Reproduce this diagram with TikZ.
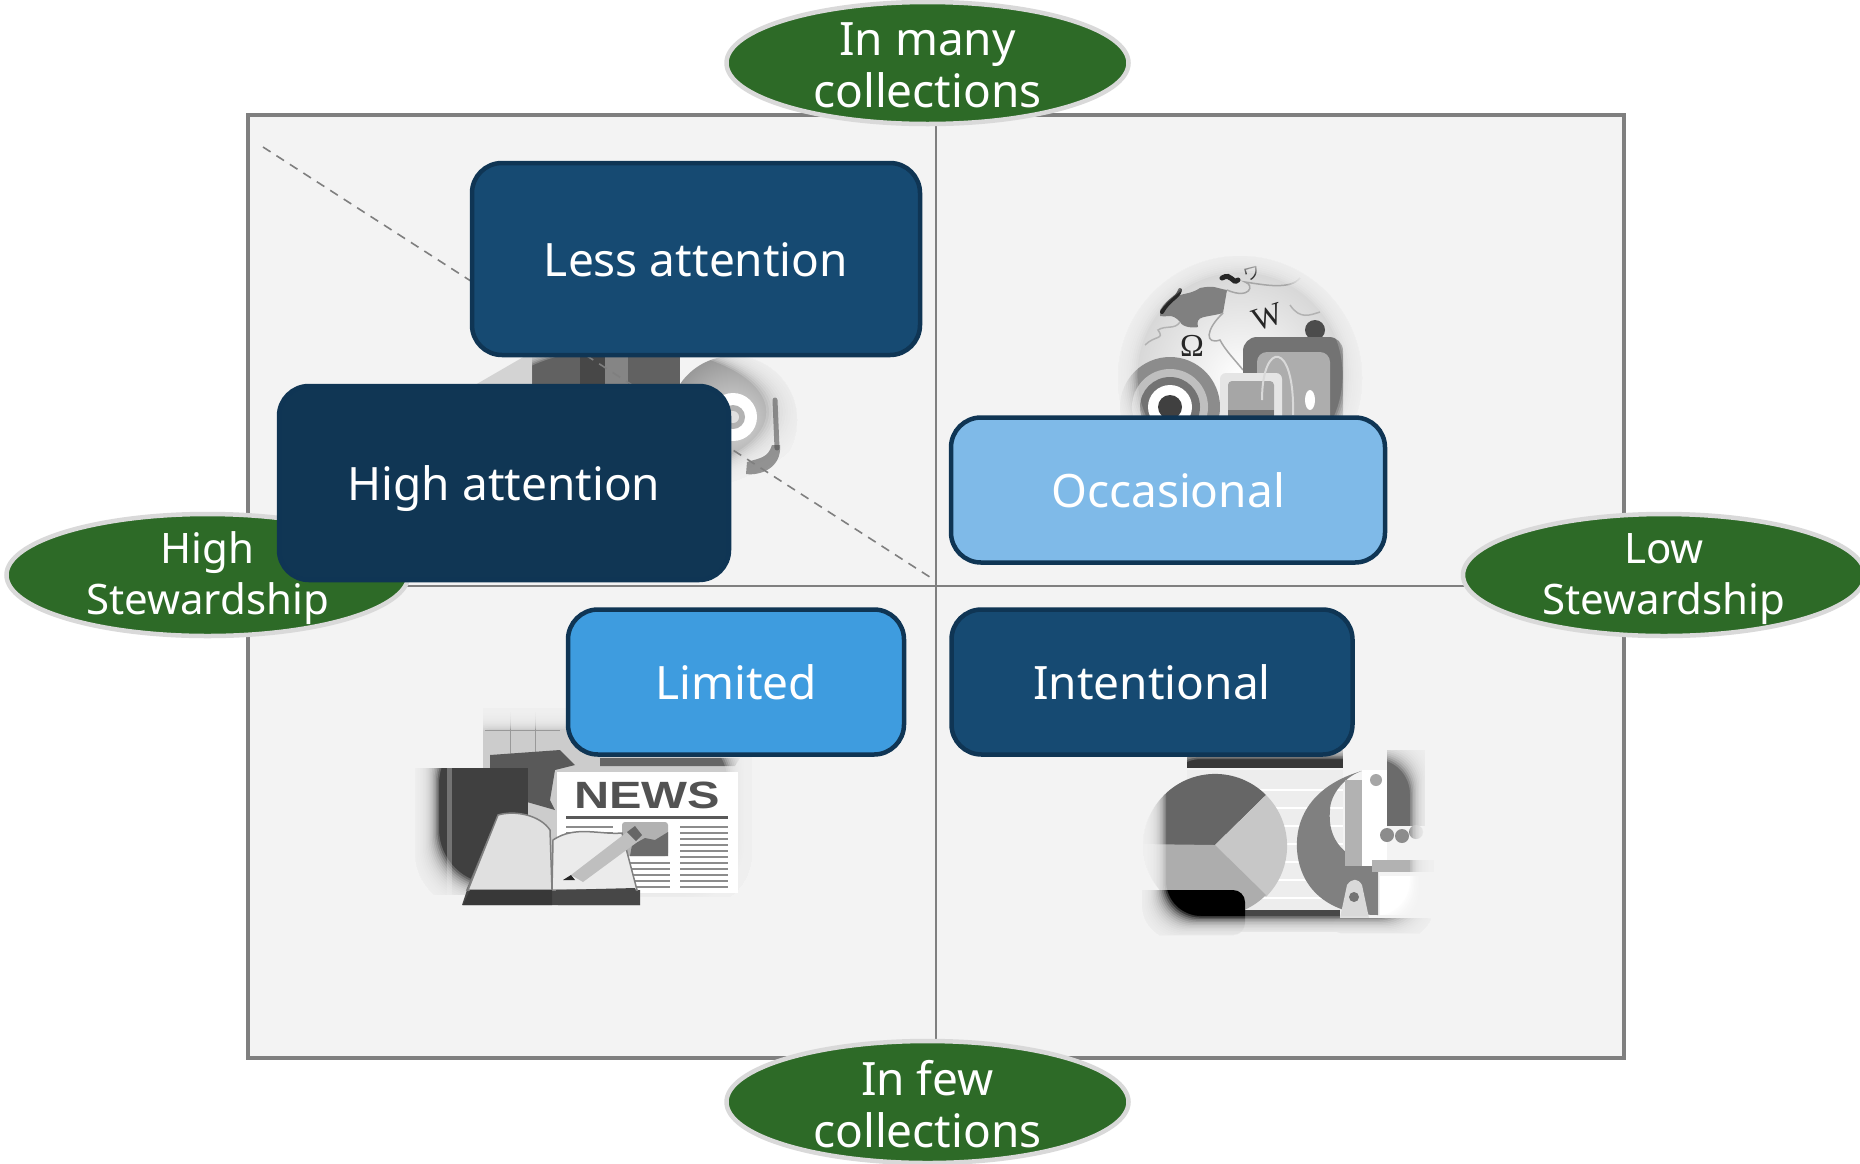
\documentclass[tikz,border=0pt]{standalone}
\usepackage{fontspec}
\setmainfont{Noto Sans}
\newfontfamily\iconbold{Liberation Sans}
\newfontfamily\iconserif{Liberation Serif}
\newfontfamily\iconcjk{Noto Sans CJK JP}
\usetikzlibrary{shapes.geometric}
\definecolor{panelbg}{HTML}{F3F3F3}
\definecolor{framegray}{HTML}{7F7F7F}
\definecolor{ovalgreen}{HTML}{2D6A27}
\definecolor{ovalrim}{HTML}{D9D9D9}
\definecolor{navyrim}{HTML}{0F3554}
\definecolor{bluemid}{HTML}{164A72}
\definecolor{bluedark}{HTML}{103654}
\definecolor{bluepale}{HTML}{7FBAE8}
\definecolor{bluelim}{HTML}{3E9CDF}
\tikzset{
  oval/.style={ellipse,draw=ovalrim,line width=4.5pt,fill=ovalgreen,text=white,minimum width=402pt,minimum height=122pt,inner sep=-40pt,align=center},
  ovalwide/.style={oval,font=\fontsize{46}{52}\selectfont},
  ovalside/.style={oval,font=\fontsize{42}{51}\selectfont},
  card/.style={rectangle,rounded corners=30pt,draw=navyrim,line width=4.5pt,text=white,inner sep=0pt,text height=35pt,text depth=0pt,font=\fontsize{46}{50}\selectfont}
}
% soft vignettes: stacked translucent masks with a hole
\newcommand{\softoval}[4]{%
  \fill[panelbg,even odd rule] (#1-#3-25,#2-#4-25) rectangle (#1+#3+25,#2+#4+25) (#1,#2) ellipse ({#3} and {#4});
  \foreach \ss in {0.985,0.97,0.955,0.94,0.925,0.91,0.895,0.88,0.865,0.85,0.835,0.82,0.805,0.79,0.775,0.76}
    \fill[panelbg,opacity=0.22,even odd rule] (#1-#3,#2-#4) rectangle (#1+#3,#2+#4) (#1,#2) ellipse ({#3*\ss} and {#4*\ss});
}
\newcommand{\softbox}[5]{%
  \fill[panelbg,even odd rule] (#1-25,#2-25) rectangle (#3+25,#4+25) [rounded corners=#5pt] (#1,#2) rectangle (#3,#4);
  \foreach \dd in {1.5,3,4.5,6,7.5,9,10.5,12,13.5,15,16.5,18,19.5,21,22.5,24}
    \fill[panelbg,opacity=0.22,even odd rule] (#1,#2) rectangle (#3,#4) [rounded corners=#5pt] (#1+\dd,#2+\dd) rectangle (#3-\dd,#4-\dd);
}
\begin{document}
\begin{tikzpicture}[x=1pt,y=-1pt]
\useasboundingbox (0,0) rectangle (1860,1163);
\fill[white] (0,0) rectangle (1860,1163);
% panel
\fill[panelbg] (248,115) rectangle (1624,1058);
\coordinate (vt) at (936,115);
\coordinate (vb) at (936,1058);
\coordinate (hl) at (400,586);
\coordinate (hr) at (1470,586);
\draw[framegray,line width=1.6pt] (vt) -- (vb);
\draw[framegray,line width=1.6pt] (hl) -- (hr);
\draw[framegray,line width=4pt] (248,115) rectangle (1624,1058);

% --- icon top-left (disc and towers)
\fill[black!62] (532,350) rectangle (680,400);
\fill[black!72] (580,350) rectangle (605,400);
\fill[black!48] (605,350) rectangle (628,400);
\shade[inner color=black!15,outer color=black!40] (733,420) circle (64);
\fill[white] (733,417) circle (24);
\fill[black!30] (733,417) circle (12);
\fill[black!12] (733,417) circle (6);
\softoval{628}{412}{182}{85}
\fill[black!25,opacity=.6] (475,385) -- (532,352) -- (532,385) -- cycle;
\draw[black!72,line width=5pt,line cap=round,opacity=.55] (775,400) -- (777,448);
\fill[black!72,opacity=.55] (780,445) .. controls (782,468) and (760,476) .. (746,474) -- (747,462) .. controls (760,458) and (768,458) .. (772,445) -- cycle;
\draw[framegray,line width=1.6pt,dash pattern=on 9pt off 7pt] (263,147) -- (936,581);

% --- icon top-right (globe and player)
\shade[inner color=white,middle color=white,outer color=black!18] (1240,378) circle (122);
\fill[black!50] (1160,310) .. controls (1172,290) and (1185,298) .. (1200,288) .. controls (1215,285) and (1215,288) .. (1227,290) -- (1223,313) .. controls (1205,318) and (1195,315) .. (1198,327) .. controls (1195,328) and (1183,328) .. (1180,322) .. controls (1172,312) and (1165,318) .. (1160,316) -- cycle;
\draw[black!85,line width=4pt,line cap=round] (1162,312) .. controls (1170,298) and (1178,298) .. (1180,290);
\draw[black!85,line width=5pt,line cap=round] (1222,278) .. controls (1232,272) and (1232,285) .. (1238,280);
\draw[black!35,line width=1.5pt] (1227,290) .. controls (1250,300) and (1255,285) .. (1245,282) .. controls (1265,285) and (1290,290) .. (1300,278);
\draw[black!35,line width=1.5pt] (1223,313) .. controls (1205,330) and (1205,345) .. (1220,340) .. controls (1225,350) and (1235,360) .. (1243,370);
\draw[black!30,line width=1.5pt] (1145,345) .. controls (1155,335) and (1165,340) .. (1158,330) .. controls (1165,325) and (1175,330) .. (1180,322);
\draw[black!30,line width=1.5pt] (1290,305) .. controls (1300,320) and (1310,315) .. (1320,312);
\node[text=black!85,font=\iconserif\fontsize{32}{32}\selectfont] (omega) at (1192,346) {Ω};
\node[text=black!85,font=\iconserif\fontsize{32}{32}\selectfont,rotate=18] (wiki) at (1268,317) {W};
\node[text=black!80,font=\iconcjk\fontsize{17}{17}\selectfont,rotate=15] (wikiglyph) at (1252,274) {ワ};
\fill[black!45] (1170,407) circle (50);
\fill[black!25] (1170,407) circle (38);
\fill[black!55] (1170,407) circle (30);
\fill[white] (1170,407) circle (22);
\fill[black!75] (1170,407) circle (12);
\fill[black!70] (1315,330) circle (10);
\fill[black!55,rounded corners=14pt] (1243,337) rectangle (1343,440);
\fill[black!32,rounded corners=10pt] (1257,352) rectangle (1330,440);
\fill[white!90!black,rounded corners=6pt] (1220,373) rectangle (1282,440);
\fill[black!35,rounded corners=4pt] (1228,381) rectangle (1274,440);
\fill[black!55] (1228,410) rectangle (1274,440);
\draw[white!85!black,line width=2pt] (1262,400) .. controls (1262,340) and (1295,340) .. (1293,415);
\fill[white] (1310,400) ellipse (5 and 10);
\softoval{1240}{375}{135}{135}

% --- icon bottom-left (news)
\fill[black!20] (483,708) rectangle (752,897);
\draw[black!40,line width=.8pt] (485,730) -- (560,730) (510,712) -- (510,770) (535,712) -- (535,770);
\fill[black!65] (490,755) -- (560,750) -- (575,765) -- (555,770) -- (550,800) -- (555,810) -- (520,800) -- (510,810) -- (490,800) -- cycle;
\fill[black!60] (600,758) -- (740,758) -- (735,766) -- (600,766) -- cycle;
\fill[black!75] (410,768) rectangle (528,895);
\fill[black!55] (447,768) rectangle (452,895);
\softbox{415}{705}{752}{908}{55}
\fill[white] (557,772) rectangle (738,893);
\node[text=black!68,font=\iconbold\bfseries\fontsize{38}{38}\selectfont,inner sep=0pt] (newsword) at (647,795) {\scalebox{1.28}[1]{NEWS}};
\draw[black!65,line width=3pt] (566,817) -- (728,817);
\draw[black!45,line width=2pt] \foreach \yy in {827,833,839,845,851,857,863,869,875,881,887} {(680,\yy) -- (728,\yy)};
\draw[black!45,line width=2pt] \foreach \yy in {863,869,875,881,887} {(630,\yy) -- (670,\yy)};
\draw[black!45,line width=2pt] \foreach \yy in {827,833,839} {(566,\yy) -- (613,\yy)};
\fill[black!30,rounded corners=3pt] (622,822) rectangle (668,856);
\fill[black!58] (630,856) -- (632,845) -- (645,838) -- (655,840) -- (668,832) -- (668,856) -- cycle;
% book
\fill[black!72] (462,905) -- (467,890) -- (640,890) -- (640,905) -- cycle;
\fill[white,draw=black!55,line width=1.5pt] (467,890) -- (490,835) -- (500,895) -- cycle;
\fill[black!12,draw=black!50,line width=1.5pt] (468,890) -- (498,815) .. controls (515,810) and (540,815) .. (550,830) -- (552,890) -- cycle;
\fill[black!8,draw=black!50,line width=1.5pt] (552,890) -- (553,840) .. controls (575,825) and (600,835) .. (622,833) -- (637,890) -- cycle;
\fill[black!78] (470,890) -- (552,890) -- (552,905) -- (463,905) -- cycle;
\fill[black!72] (556,890) -- (635,888) -- (640,905) -- (558,905) -- cycle;
\fill[black!25] (571,875) -- (631,829) -- (640,840) -- (583,882) -- cycle;
\fill[black!85] (563,880) -- (571,875) -- (575,880) -- cycle;
\fill[black!60] (627,832) -- (635,826) -- (642,835) -- (636,841) -- cycle;

% --- icon bottom-right (chart and microscope)
\fill[black!78] (1187,750) rectangle (1343,768);
\fill[black!7] (1187,770) rectangle (1343,912);
\draw[white,line width=2pt] \foreach \yy in {790,808,826,844,862,880,898} {(1187,\yy) -- (1343,\yy)};
\fill[black!60] (1215,845) -- (1266,795) arc[start angle=-45,end angle=-180,radius=72];
\fill[black!22] (1215,845) -- (1266,795) arc[start angle=-45,end angle=45,radius=72] -- cycle;
\fill[black!32] (1215,845) -- (1266,895) arc[start angle=45,end angle=180,radius=72] -- cycle;
\fill[black!72] (1220,910) rectangle (1340,932);
\fill[black,rounded corners=12pt] (1130,890) rectangle (1245,935);
\fill[black!50] (1365,770) .. controls (1310,785) and (1295,820) .. (1297,850) .. controls (1300,890) and (1330,915) .. (1378,915) -- (1378,865) .. controls (1345,860) and (1327,840) .. (1330,810) .. controls (1330,795) and (1345,775) .. (1365,770) -- cycle;
\fill[black!30] (1345,780) rectangle (1362,866);
\fill[white] (1362,770) rectangle (1387,866);
\fill[black!58] (1387,750) rectangle (1425,826);
\fill[black!35] (1376,780) circle (6);
\fill[black!45] (1387,835) circle (7) (1402,836) circle (7) (1416,832) circle (7);
\fill[white] (1380,876) rectangle (1435,915);
\fill[black!30] (1372,860) rectangle (1435,872);
\fill[black!15] (1340,918) -- (1347,885) .. controls (1352,878) and (1358,878) .. (1362,885) -- (1369,918) -- cycle;
\fill[black!55] (1354,897) circle (5);
\fill[black!70,rounded corners=8pt] (1333,918) rectangle (1435,933);
\softbox{1142}{735}{1434}{940}{35}

% ovals
\node[ovalwide] (many) at (927.5,63) {\rule{0pt}{38pt}In many\\collections};
\node[ovalwide] (few) at (927.5,1102) {\rule{0pt}{40pt}In few\\collections};
\node[ovalside] (high) at (207.5,575) {\rule{0pt}{38pt}High\\Stewardship};
\node[ovalside] (low) at (1664,575) {\rule{0pt}{38pt}Low\\Stewardship};
% cards
\node[card,fill=bluemid,minimum width=448pt,minimum height=192pt] (less) at (696,259) {Less attention};
\node[card,fill=bluedark,minimum width=450pt,minimum height=194pt] (highatt) at (504,483) {High attention};
\node[card,fill=bluepale,minimum width=434pt,minimum height=145pt] (occ) at (1168,490) {Occasional};
\node[card,fill=bluelim,minimum width=336pt,minimum height=145pt] (lim) at (736,682) {Limited};
\node[card,fill=bluemid,minimum width=401pt,minimum height=145pt] (inten) at (1152,682) {Intentional};
\end{tikzpicture}
\end{document}
